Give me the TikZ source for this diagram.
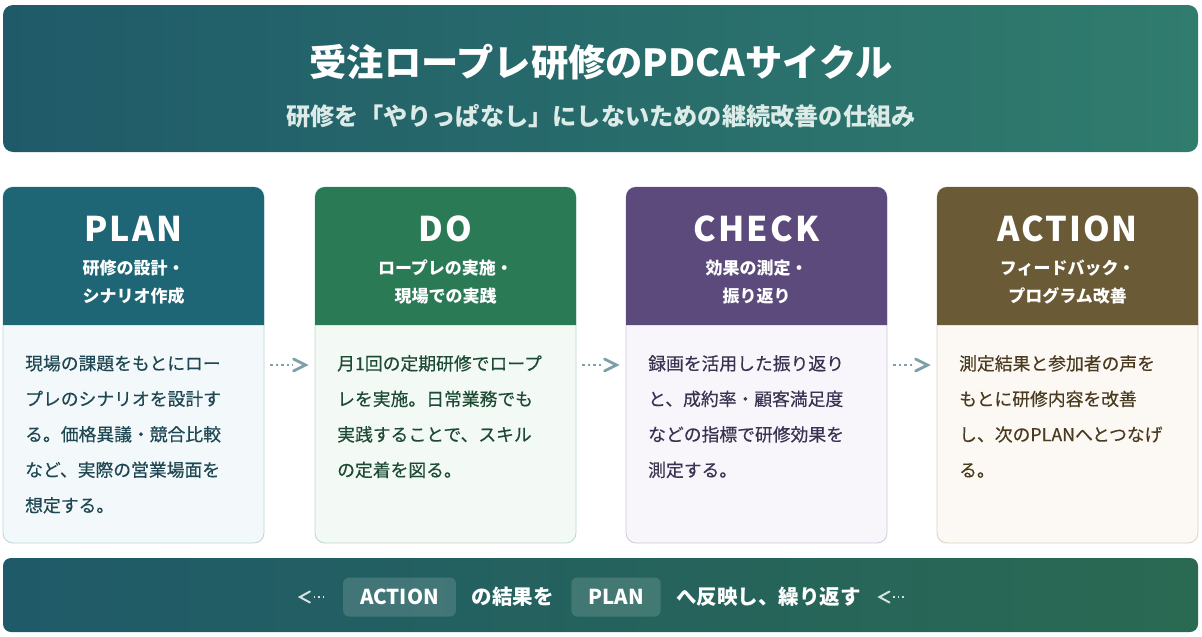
\documentclass[tikz,border=0pt]{standalone}
\usepackage{fontspec}
\setmainfont{Noto Sans CJK JP}
\newfontfamily\cardfont[LetterSpace=6]{Noto Sans CJK JP}
\newfontfamily\bodyfont[FakeBold=0.35]{Noto Sans CJK JP}
\usetikzlibrary{positioning, calc}

\definecolor{hdrL}{HTML}{1F5A69}
\definecolor{hdrR}{HTML}{307C6D}
\definecolor{barL}{HTML}{1F5A69}
\definecolor{barR}{HTML}{2A6A52}
\definecolor{subtx}{HTML}{DCEBE7}
\definecolor{flowc}{HTML}{7C9FA8}
\definecolor{backc}{HTML}{D2E3E0}
\definecolor{planHd}{HTML}{1E6575}
\definecolor{planBg}{HTML}{F3F9FA}
\definecolor{planBd}{HTML}{B9D5DB}
\definecolor{planTx}{HTML}{1F4753}
\definecolor{doHd}{HTML}{2B7A56}
\definecolor{doBg}{HTML}{F3F9F5}
\definecolor{doBd}{HTML}{BCD9C8}
\definecolor{doTx}{HTML}{1D4A34}
\definecolor{chkHd}{HTML}{5B4A7B}
\definecolor{chkBg}{HTML}{F8F6FB}
\definecolor{chkBd}{HTML}{CEC7DC}
\definecolor{chkTx}{HTML}{3B3150}
\definecolor{actHd}{HTML}{6B5A36}
\definecolor{actBg}{HTML}{FCF9F4}
\definecolor{actBd}{HTML}{DCD1BE}
\definecolor{actTx}{HTML}{4A3B20}

\tikzset{
  card/.style={draw=#1Bd, fill=#1Bg, line width=0.8pt, rounded corners=10pt,
    minimum width=261pt, minimum height=356pt, inner sep=0pt},
  cardtitle/.style={text=white, font=\cardfont\bfseries\fontsize{34}{40}\selectfont, inner sep=0pt},
  cardsub/.style={text=white, font=\bfseries\fontsize{17}{28}\selectfont, align=center, inner sep=0pt},
  cardbody/.style={text=#1Tx, font=\bodyfont\fontsize{17.8}{35.5}\selectfont, align=left,
    anchor=north west, inner sep=0pt},
  flow/.style={flowc, line width=2pt, dash pattern=on 2.5pt off 3pt, shorten <=6pt, shorten >=22pt},
  chevron/.style={flowc, line width=2.8pt, line cap=round},
  back/.style={backc, line width=1.4pt, dash pattern=on 1.4pt off 3pt},
  backchev/.style={backc, line width=2pt, line cap=round},
  badge/.style={fill=white, fill opacity=0.14, text opacity=1, rounded corners=6pt,
    minimum height=39pt, inner xsep=17pt},
  bartext/.style={text=white, font=\bfseries\fontsize{20.5}{24}\selectfont}
}

\begin{document}
\begin{tikzpicture}[x=1pt, y=-1pt]
  \useasboundingbox (0,0) rectangle (1202,637);

  % Cabecera
  \shade[left color=hdrL, right color=hdrR, rounded corners=10pt] (3,5) rectangle (1198,152);
  \node (title) at (601,62) [text=white, font=\bfseries\fontsize{37.3}{40}\selectfont]
    {受注ロープレ研修のPDCAサイクル};
  \node (subtitle) at (601,116) [text=subtx, font=\bfseries\fontsize{24.2}{28}\selectfont]
    {研修を「やりっぱなし」にしないための継続改善の仕組み};

  % Tarjeta PLAN
  \node[card=plan] (plancard) at (133.5,365) {};
  \fill[planHd] (3,325) [rounded corners=10pt] -- (3,187) -- (264,187) [sharp corners] -- (264,325) -- cycle;
  \node[cardtitle] (plan) at (133.5,229) {PLAN};
  \node[cardsub] (plansub) at (133.5,282) {研修の設計・\\シナリオ作成};
  \node[cardbody=plan] (planbody) at (25,355)
    {現場の課題をもとにロー\\プレのシナリオを設計す\\る。価格異議・競合比較\\など、実際の営業場面を\\想定する。};

  % Tarjeta DO
  \node[card=do] (docard) at (445.5,365) {};
  \fill[doHd] (315,325) [rounded corners=10pt] -- (315,187) -- (576,187) [sharp corners] -- (576,325) -- cycle;
  \node[cardtitle] (do) at (445.5,229) {DO};
  \node[cardsub] (dosub) at (445.5,282) {ロープレの実施・\\現場での実践};
  \node[cardbody=do] (dobody) at (337,355)
    {月1回の定期研修でロープ\\レを実施。日常業務でも\\実践することで、スキル\\の定着を図る。};

  % Tarjeta CHECK
  \node[card=chk] (chkcard) at (756.5,365) {};
  \fill[chkHd] (626,325) [rounded corners=10pt] -- (626,187) -- (887,187) [sharp corners] -- (887,325) -- cycle;
  \node[cardtitle] (chk) at (756.5,229) {CHECK};
  \node[cardsub] (chksub) at (756.5,282) {効果の測定・\\振り返り};
  \node[cardbody=chk] (chkbody) at (648,355)
    {録画を活用した振り返り\\と、成約率・顧客満足度\\などの指標で研修効果を\\測定する。};

  % Tarjeta ACTION
  \node[card=act] (actcard) at (1067.5,365) {};
  \fill[actHd] (937,325) [rounded corners=10pt] -- (937,187) -- (1198,187) [sharp corners] -- (1198,325) -- cycle;
  \node[cardtitle] (act) at (1067.5,229) {ACTION};
  \node[cardsub] (actsub) at (1067.5,282) {フィードバック・\\プログラム改善};
  \node[cardbody=act] (actbody) at (959,355)
    {測定結果と参加者の声を\\もとに研修内容を改善\\し、次のPLANへとつなげ\\る。};

  % Flechas entre tarjetas
  \draw[flow] (plancard.east) -- (docard.west);
  \draw[chevron] ([xshift=-21pt, yshift=6pt]docard.west) -- ([xshift=-9pt]docard.west) -- ([xshift=-21pt, yshift=-6pt]docard.west);
  \draw[flow] (docard.east) -- (chkcard.west);
  \draw[chevron] ([xshift=-21pt, yshift=6pt]chkcard.west) -- ([xshift=-9pt]chkcard.west) -- ([xshift=-21pt, yshift=-6pt]chkcard.west);
  \draw[flow] (chkcard.east) -- (actcard.west);
  \draw[chevron] ([xshift=-21pt, yshift=6pt]actcard.west) -- ([xshift=-9pt]actcard.west) -- ([xshift=-21pt, yshift=-6pt]actcard.west);

  % Barra inferior
  \shade[left color=barL, right color=barR, rounded corners=8pt] (3,558) rectangle (1198,632);
  \node[badge, bartext] (actbadge) at (399.5,597) {ACTION};
  \node[bartext, right=12pt of actbadge] (result) {の結果を};
  \node[badge, bartext, right=14pt of result] (planbadge) {PLAN};
  \node[bartext, right=12pt of planbadge] (repeat) {へ反映し、繰り返す};
  \coordinate[left=17pt of actbadge] (l1);
  \coordinate[left=43pt of actbadge] (l2);
  \coordinate[right=41pt of repeat] (r1);
  \coordinate[right=15pt of repeat] (r2);
  \draw[back] ([xshift=14pt]l2) -- (l1);
  \draw[backchev] ([xshift=10pt, yshift=5.5pt]l2) -- (l2) -- ([xshift=10pt, yshift=-5.5pt]l2);
  \draw[back] ([xshift=14pt]r2) -- (r1);
  \draw[backchev] ([xshift=10pt, yshift=5.5pt]r2) -- (r2) -- ([xshift=10pt, yshift=-5.5pt]r2);

\end{tikzpicture}
\end{document}
